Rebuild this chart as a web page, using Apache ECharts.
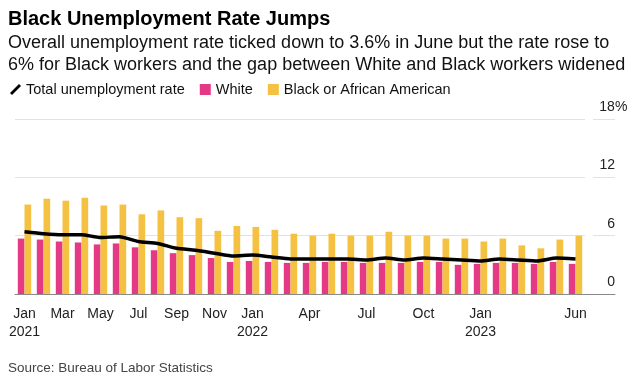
<!DOCTYPE html>
<html>
<head>
<meta charset="utf-8">
<script src="https://cdn.jsdelivr.net/npm/echarts@6/dist/echarts.min.js"></script>
<style>
html,body{margin:0;padding:0;background:#fff;}
#chart{width:643px;height:382px;}
</style>
</head>
<body>
<div id="chart"></div>
<script>
const months = ['Jan\n2021','Feb','Mar','Apr','May','Jun','Jul','Aug','Sep','Oct','Nov','Dec',
  'Jan\n2022','Feb','Mar','Apr','May','Jun','Jul','Aug','Sep','Oct','Nov','Dec',
  'Jan\n2023','Feb','Mar','Apr','May','Jun'];
const labeledIdx = [0,2,4,6,8,10,12,15,18,21,24,29];
const total = [6.4,6.2,6.1,6.1,5.8,5.9,5.4,5.2,4.7,4.5,4.2,3.9,4.0,3.8,3.6,3.6,3.6,3.6,3.5,3.7,3.5,3.7,3.6,3.5,3.4,3.6,3.5,3.4,3.7,3.6];
const white = [5.7,5.6,5.4,5.3,5.1,5.2,4.8,4.5,4.2,4.0,3.7,3.3,3.4,3.3,3.2,3.2,3.3,3.3,3.2,3.2,3.2,3.3,3.3,3.0,3.1,3.2,3.2,3.1,3.3,3.1];
const black = [9.2,9.8,9.6,9.9,9.1,9.2,8.2,8.6,7.9,7.8,6.5,7.0,6.9,6.6,6.2,6.0,6.2,6.0,6.0,6.4,6.0,6.0,5.7,5.7,5.4,5.7,5.0,4.7,5.6,6.0];
const yTicks = [0,6,12,18];

const FONT = '"Liberation Sans", Arial, sans-serif';
const chart = echarts.init(document.getElementById('chart'), null, {renderer:'canvas'});
const showIdx = (i) => labeledIdx.indexOf(i) >= 0;

chart.setOption({
  animation: false,
  textStyle: {fontFamily: FONT},
  title: [
    {text: 'Black Unemployment Rate Jumps', left: 3, top: 2,
     textStyle: {fontFamily: FONT, fontSize: 20, fontWeight: 'bold', color: '#000', lineHeight: 24}},
    {text: 'Overall unemployment rate ticked down to 3.6% in June but the rate rose to\n6% for Black workers and the gap between White and Black workers widened',
     left: 3, top: 27,
     textStyle: {fontFamily: FONT, fontSize: 18, fontWeight: 'normal', color: '#111', lineHeight: 22}},
    {text: 'Source: Bureau of Labor Statistics', left: 3, top: 356,
     textStyle: {fontFamily: FONT, fontSize: 13.5, fontWeight: 'normal', color: '#444'}}
  ],
  legend: {
    left: 5, top: 77, itemWidth: 11, itemHeight: 11, itemGap: 15, itemTextGap: 6,
    textStyle: {fontFamily: FONT, fontSize: 14.5, color: '#111'},
    data: [
      {name: 'Total unemployment rate', icon: 'path://M0,10 L9,1 L11,3 L2,12 Z', itemStyle: {color: '#000'}},
      {name: 'White', icon: 'path://M0,0H10V10H0Z'},
      {name: 'Black or African American', icon: 'path://M0,0H10V10H0Z'}
    ]
  },
  grid: [
    {left: 15, right: 58, top: 119, bottom: 88},
    {left: 585, right: 28, top: 119, bottom: 88},
    {left: 593, right: 28, top: 119, bottom: 88}
  ],
  xAxis: [
    {type: 'category', gridIndex: 0, data: months,
     axisLine: {lineStyle: {color: '#8a8a8a', width: 1}},
     axisTick: {alignWithLabel: true, interval: (i) => showIdx(i), length: 5, lineStyle: {color: '#333'}},
     axisLabel: {interval: (i) => showIdx(i), fontFamily: FONT, fontSize: 14, color: '#222', lineHeight: 18, margin: 11}},
    {type: 'value', gridIndex: 1, min: 0, max: 1, axisLine: {show: true, lineStyle: {color: '#8a8a8a'}},
     axisTick: {show: false}, axisLabel: {show: false}, splitLine: {show: false}},
    {type: 'value', gridIndex: 2, min: 0, max: 1, show: false}
  ],
  yAxis: [
    {type: 'value', gridIndex: 0, position: 'right', min: 0, max: 18, interval: 6,
     axisLine: {show: false}, axisTick: {show: false},
     splitLine: {lineStyle: {color: '#e2e2e2', width: 1}},
     axisLabel: {margin: 14, align: 'left', verticalAlign: 'bottom', padding: [0,0,5,0],
       fontFamily: FONT, fontSize: 14, color: '#222',
       formatter: (v) => v === 18 ? '{n|18}{p|%}' : '{n|' + v + '}',
       rich: {n: {fontFamily: FONT, fontSize: 14, color: '#222', width: 16, align: 'right'},
              p: {fontFamily: FONT, fontSize: 14, color: '#222'}}}},
    {type: 'value', gridIndex: 1, min: 0, max: 18, interval: 6, show: false},
    {type: 'value', gridIndex: 2, min: 0, max: 18, interval: 6,
     axisLine: {show: false}, axisTick: {show: false}, axisLabel: {show: false},
     splitLine: {lineStyle: {color: '#e2e2e2', width: 1}}}
  ],
  series: [
    {name: 'Total unemployment rate', type: 'line', data: total, xAxisIndex: 0, yAxisIndex: 0,
     showSymbol: false, smooth: 0.2, z: 5, color: '#000',
     lineStyle: {color: '#000', width: 3.5}},
    {name: 'White', type: 'bar', data: white, barWidth: 6.7, barGap: '0%', color: '#e43a85',
     itemStyle: {color: '#e43a85'}},
    {name: 'Black or African American', type: 'bar', data: black, barWidth: 6.7, barGap: '0%', color: '#f5c142',
     itemStyle: {color: '#f5c142'}}
  ]
});
</script>
</body>
</html>
